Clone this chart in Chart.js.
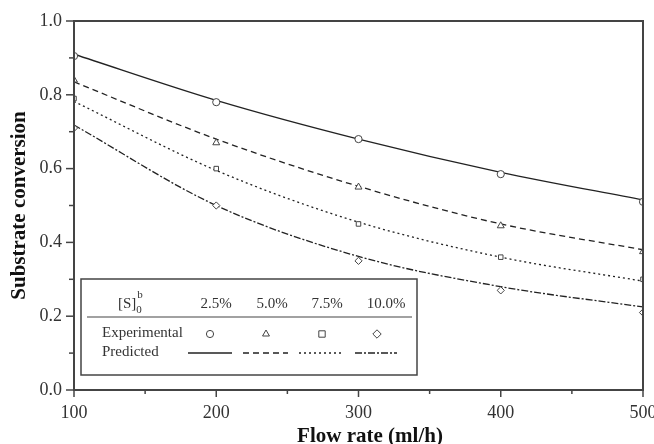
<!DOCTYPE html>
<html>
<head>
<meta charset="utf-8">
<script src="https://cdn.jsdelivr.net/npm/chart.js@4/dist/chart.umd.min.js"></script>
<style>
html,body{margin:0;padding:0;background:#fff;}
#wrap{width:654px;height:444px;position:relative;}
</style>
</head>
<body>
<div id="wrap"><canvas id="c" width="654" height="444"></canvas></div>
<script>
// ---- data ----
const flowRates = [100, 200, 300, 400, 500];
const concLabels = ['2.5%', '5.0%', '7.5%', '10.0%'];
const exp25  = [0.905, 0.78, 0.68, 0.585, 0.51];
const exp50  = [0.84, 0.67, 0.55, 0.445, 0.375];
const exp75  = [0.79, 0.60, 0.45, 0.36, 0.30];
const exp100 = [0.71, 0.50, 0.35, 0.27, 0.21];
const pred25  = [0.91, 0.785, 0.68, 0.59, 0.515];
const pred50  = [0.835, 0.68, 0.552, 0.45, 0.38];
const pred75  = [0.782, 0.595, 0.455, 0.36, 0.295];
const pred100 = [0.718, 0.50, 0.362, 0.28, 0.225];
const yTickValues = [0.0, 0.2, 0.4, 0.6, 0.8, 1.0];
const xTickValues = [100, 200, 300, 400, 500];
const xTitle = 'Flow rate (ml/h)';
const yTitle = 'Substrate conversion';

const INK = '#333';
const SERIF = '"Liberation Serif", "Times New Roman", serif';
const dashes = [[], [6, 4], [2, 3], [7, 2, 2, 2]];
const markers = ['circle', 'triangle', 'rect', 'rectRot'];
const expSets = [exp25, exp50, exp75, exp100];
const predSets = [pred25, pred50, pred75, pred100];

const toXY = arr => arr.map((v, i) => ({x: flowRates[i], y: v}));

const datasets = [];
predSets.forEach((p, i) => {
  datasets.push({
    data: toXY(p), showLine: true, borderColor: '#222', borderWidth: 1.3, borderDash: dashes[i],
    pointRadius: 0, fill: false, cubicInterpolationMode: 'monotone', order: 2
  });
});
expSets.forEach((e, i) => {
  datasets.push({
    data: toXY(e), showLine: false, pointStyle: markers[i],
    pointRadius: markers[i] === 'rect' ? 3.2 : (markers[i] === 'triangle' ? 4 : 3.6),
    pointBackgroundColor: '#fff', pointBorderColor: '#444', pointBorderWidth: 1, order: 1
  });
});

function drawMarker(ctx, style, x, y) {
  ctx.save();
  ctx.fillStyle = '#fff'; ctx.strokeStyle = '#444'; ctx.lineWidth = 1;
  ctx.beginPath();
  if (style === 'circle') { ctx.arc(x, y, 3.6, 0, Math.PI * 2); }
  else if (style === 'triangle') { const r = 4; ctx.moveTo(x, y - r); ctx.lineTo(x + r * 0.866, y + r * 0.5); ctx.lineTo(x - r * 0.866, y + r * 0.5); ctx.closePath(); }
  else if (style === 'rect') { ctx.rect(x - 3.2, y - 3.2, 6.4, 6.4); }
  else { const r = 4.2; ctx.moveTo(x, y - r); ctx.lineTo(x + r, y); ctx.lineTo(x, y + r); ctx.lineTo(x - r, y); ctx.closePath(); }
  ctx.fill(); ctx.stroke();
  ctx.restore();
}

const framePlugin = {
  id: 'frame',
  afterDraw(chart) {
    const {ctx, chartArea: a, scales} = chart;
    ctx.save();
    // frame
    ctx.strokeStyle = '#444'; ctx.lineWidth = 2;
    ctx.strokeRect(a.left, a.top, a.right - a.left, a.bottom - a.top);
    // y ticks (major + minor)
    ctx.lineWidth = 1.5;
    for (let v = 0; v <= 10; v++) {
      const y = scales.y.getPixelForValue(v / 10);
      const len = v % 2 === 0 ? 8 : 5;
      ctx.beginPath(); ctx.moveTo(a.left - len, y); ctx.lineTo(a.left, y); ctx.stroke();
    }
    for (let v = 100; v <= 500; v += 50) {
      const x = scales.x.getPixelForValue(v);
      const len = v % 100 === 0 ? 7 : 4;
      ctx.beginPath(); ctx.moveTo(x, a.bottom); ctx.lineTo(x, a.bottom + len); ctx.stroke();
    }
    // axis titles
    ctx.fillStyle = '#111';
    ctx.font = 'bold 21px ' + SERIF;
    ctx.textAlign = 'center'; ctx.textBaseline = 'middle';
    ctx.fillText(xTitle, 370, 437);
    ctx.save();
    ctx.translate(20, (a.top + a.bottom) / 2);
    ctx.rotate(-Math.PI / 2);
    ctx.fillText(yTitle, 0, 0);
    ctx.restore();
    // legend box
    const L = 81, T = 279, R = 417, B = 375;
    ctx.lineWidth = 1.5; ctx.strokeStyle = '#444';
    ctx.fillStyle = '#fff';
    ctx.fillRect(L, T, R - L, B - T);
    ctx.strokeRect(L, T, R - L, B - T);
    ctx.lineWidth = 1.2;
    ctx.beginPath(); ctx.moveTo(87, 317); ctx.lineTo(412, 317); ctx.stroke();
    ctx.fillStyle = INK; ctx.textBaseline = 'middle';
    ctx.font = '15px ' + SERIF;
    ctx.textAlign = 'left';
    ctx.fillText('[S]', 118, 304);
    let w = ctx.measureText('[S]').width;
    ctx.font = '11px ' + SERIF;
    ctx.fillText('0', 118 + w, 310);
    ctx.fillText('b', 118 + w + 1, 295);
    ctx.font = '15px ' + SERIF;
    const colX = [216, 272, 327, 386];
    ctx.textAlign = 'center';
    concLabels.forEach((t, i) => ctx.fillText(t, colX[i], 304));
    ctx.textAlign = 'left';
    ctx.fillText('Experimental', 102, 333);
    ctx.fillText('Predicted', 102, 352);
    const mX = [210, 266, 322, 377];
    markers.forEach((m, i) => drawMarker(ctx, m, mX[i], 334));
    const segs = [[188, 232], [243, 288], [299, 342], [355, 397]];
    ctx.strokeStyle = '#222'; ctx.lineWidth = 1.3;
    segs.forEach((s, i) => {
      ctx.setLineDash(dashes[i]);
      ctx.beginPath(); ctx.moveTo(s[0], 353); ctx.lineTo(s[1], 353); ctx.stroke();
    });
    ctx.setLineDash([]);
    ctx.restore();
  }
};

new Chart(document.getElementById('c'), {
  type: 'scatter',
  data: {datasets},
  options: {
    responsive: false, animation: false, maintainAspectRatio: false,
    layout: {padding: {top: 21, right: 11, left: 0, bottom: 0}},
    plugins: {legend: {display: false}, tooltip: {enabled: false}},
    scales: {
      x: {
        type: 'linear', min: 100, max: 500,
        afterFit: s => { s.height = 54; s.paddingLeft = 0; s.paddingRight = 0; },
        afterBuildTicks: s => { s.ticks = xTickValues.map(v => ({value: v})); },
        grid: {display: true, drawOnChartArea: false, drawTicks: false},
        border: {display: true, color: '#444', width: 2},
        ticks: {padding: 12, color: INK, font: {family: SERIF, size: 18}, maxRotation: 0, callback: v => String(v)},
        title: {display: false}
      },
      y: {
        type: 'linear', min: 0, max: 1,
        afterFit: s => { s.width = 74; s.paddingTop = 0; s.paddingBottom = 0; },
        afterBuildTicks: s => { s.ticks = yTickValues.map(v => ({value: v})); },
        grid: {display: true, drawOnChartArea: false, drawTicks: false},
        border: {display: true, color: '#444', width: 2},
        ticks: {padding: 12, color: INK, font: {family: SERIF, size: 18}, callback: v => v.toFixed(1)},
        title: {display: false}
      }
    }
  },
  plugins: [framePlugin]
});
</script>
</body>
</html>
